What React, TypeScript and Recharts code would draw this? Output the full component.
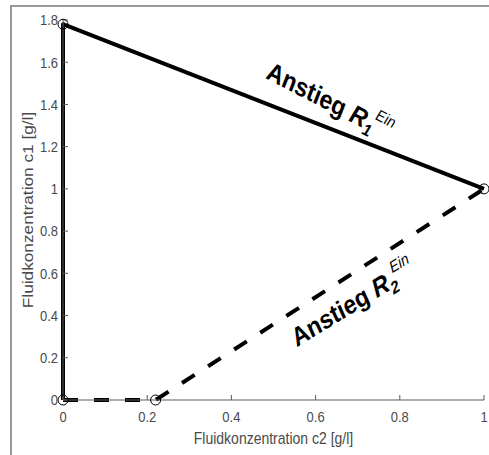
import {
    ComposedChart,
    Line,
    Scatter,
    XAxis,
    YAxis,
    ReferenceDot,
} from 'recharts'

const xTicks = [0, 0.2, 0.4, 0.6, 0.8, 1]
const yTicks = [0, 0.2, 0.4, 0.6, 0.8, 1, 1.2, 1.4, 1.6, 1.8]

// solid path: (0,0) -> (0,1.78) -> (1,1)
const r1Path = [
    { x: 0, y: 0 },
    { x: 0, y: 1.78 },
    { x: 1, y: 1 },
]

// dashed path: (0,0) -> (0.22,0) -> (1,1)
const r2Path = [
    { x: 0, y: 0 },
    { x: 0.22, y: 0 },
    { x: 1, y: 1 },
]

const markers = [
    { x: 0, y: 1.78 },
    { x: 1, y: 1 },
    { x: 0, y: 0 },
    { x: 0.22, y: 0 },
]

// annotation anchors (start of text baseline) in data units
const annotations = [
    { x: 0.48, y: 1.525, angle: 24, sub: '1' },
    { x: 0.555, y: 0.25, angle: -28, sub: '2' },
]

const axisColor = '#5a5a5a'
const textColor = '#4a4a4a'
const font = 'Arial, "Liberation Sans", sans-serif'
// the picture is a bit stretched vertically
const stretch = 1.15

const Annotation = ({ cx, cy, angle, sub }: { cx: number; cy: number; angle: number; sub: string }) => (
    <text
        transform={`translate(${cx}, ${cy}) scale(1, ${stretch}) rotate(${angle})`}
        fontFamily={font}
        fontWeight='bold'
        fontSize={23}
        fill='#000'
    >
        Anstieg <tspan fontStyle='italic'>R</tspan>
        <tspan fontStyle='italic' fontSize={15} dy={5}>{sub}</tspan>
        <tspan fontStyle='italic' fontWeight='normal' fontSize={14} dx={-1} dy={-17}>Ein</tspan>
    </text>
)

const XTick = ({ x, y, payload }: any) => (
    <text
        transform={`translate(${x}, ${y}) scale(1, ${stretch})`}
        textAnchor='middle'
        dy='0.71em'
        fontSize={13}
        fontFamily={font}
        fill={textColor}
    >
        {payload.value}
    </text>
)

const YTick = ({ x, y, payload }: any) => (
    <text
        transform={`translate(${x}, ${y}) scale(1, ${stretch})`}
        textAnchor='end'
        dy='0.355em'
        fontSize={13}
        fontFamily={font}
        fill={textColor}
    >
        {payload.value}
    </text>
)

export default function App() {
    return (
        <div style={{ position: 'absolute', left: 0, top: 0, width: 489, height: 455, background: '#fff', overflow: 'hidden' }}>
            <div
                style={{
                    position: 'absolute',
                    left: 10,
                    top: 5,
                    width: 600,
                    height: 600,
                    borderTop: '2px solid #999',
                    borderLeft: '2px solid #999',
                }}
            />
            <div style={{ position: 'absolute', left: 0, top: 0 }}>
                <ComposedChart width={489} height={455} margin={{ top: 20, right: 5, bottom: 10, left: 13 }}>
                    <XAxis
                        dataKey='x'
                        type='number'
                        domain={[0, 1]}
                        ticks={xTicks}
                        height={45}
                        stroke={axisColor}
                        tickSize={-5}
                        tickMargin={16}
                        tick={<XTick />}
                        label={{
                            value: 'Fluidkonzentration c2 [g/l]',
                            content: ({ viewBox }: any) => (
                                <text
                                    transform={`translate(${viewBox.x + viewBox.width / 2}, ${viewBox.y + 38}) scale(1, ${stretch})`}
                                    textAnchor='middle'
                                    dy='0.355em'
                                    fontSize={14}
                                    fontFamily={font}
                                    fill={textColor}
                                >
                                    Fluidkonzentration c2 [g/l]
                                </text>
                            ),
                        }}
                    />
                    <XAxis
                        xAxisId='top'
                        orientation='top'
                        type='number'
                        domain={[0, 1]}
                        ticks={xTicks}
                        height={0}
                        stroke={axisColor}
                        tickSize={-5}
                        tick={false}
                    />
                    <YAxis
                        dataKey='y'
                        type='number'
                        domain={[0, 1.8]}
                        ticks={yTicks}
                        width={50}
                        stroke={axisColor}
                        tickSize={-5}
                        tickMargin={10}
                        tick={<YTick />}
                        label={{
                            value: 'Fluidkonzentration c1 [g/l]',
                            content: ({ viewBox }: any) => (
                                <text
                                    transform={`translate(${viewBox.x + 15}, ${viewBox.y + viewBox.height / 2}) scale(1, ${stretch}) rotate(-90)`}
                                    textAnchor='middle'
                                    dy='0.355em'
                                    fontSize={15}
                                    fontFamily={font}
                                    fill={textColor}
                                >
                                    Fluidkonzentration c1 [g/l]
                                </text>
                            ),
                        }}
                    />
                    <YAxis
                        yAxisId='right'
                        orientation='right'
                        type='number'
                        domain={[0, 1.8]}
                        ticks={yTicks}
                        width={0}
                        stroke={axisColor}
                        tickSize={-5}
                        tick={false}
                    />
                    <Line
                        data={r1Path}
                        dataKey='y'
                        type='linear'
                        stroke='#000'
                        strokeWidth={4}
                        strokeLinejoin='round'
                        dot={false}
                        isAnimationActive={false}
                    />
                    <Line
                        data={r2Path}
                        dataKey='y'
                        type='linear'
                        stroke='#000'
                        strokeWidth={4}
                        strokeDasharray='15 16'
                        dot={false}
                        isAnimationActive={false}
                    />
                    <Scatter
                        data={markers}
                        dataKey='y'
                        fill='none'
                        isAnimationActive={false}
                        shape={(p: any) => (
                            <circle cx={p.cx} cy={p.cy} r={5} fill='none' stroke='#000' strokeWidth={1} />
                        )}
                    />
                    {annotations.map((a) => (
                        <ReferenceDot
                            key={a.sub}
                            x={a.x}
                            y={a.y}
                            r={1}
                            shape={(p: any) => <Annotation cx={p.cx} cy={p.cy} angle={a.angle} sub={a.sub} />}
                        />
                    ))}
                </ComposedChart>
            </div>
        </div>
    )
}
